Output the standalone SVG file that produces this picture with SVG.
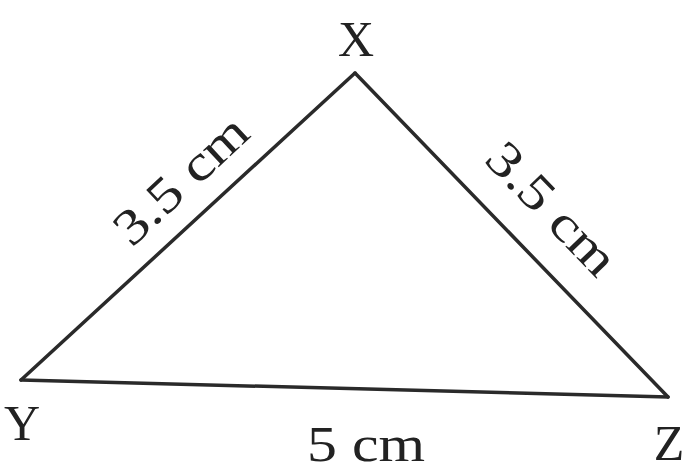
<svg xmlns="http://www.w3.org/2000/svg" width="691" height="472" viewBox="0 0 691 472">
<style>
.t{font-family:"Liberation Serif","Times New Roman",serif;font-size:50px;fill:#222;text-anchor:middle}
.e{stroke:#2a2a2a;stroke-width:3.5;fill:none;stroke-linecap:round}
</style>
<rect width="691" height="472" fill="#fff"/>
<g id="connectors">
<line class="e" x1="355" y1="73" x2="21" y2="380"/>
<line class="e" x1="355" y1="73" x2="668" y2="397"/>
<line class="e" x1="21" y1="380" x2="668" y2="397"/>
</g>
<g id="X"><text class="t" x="356" y="56">X</text></g>
<g id="Y"><text class="t" x="22" y="440">Y</text></g>
<g id="Z"><text class="t" x="669" y="460">Z</text></g>
<g id="label-XY"><text class="t" transform="translate(192,192) rotate(-43)" textLength="165" lengthAdjust="spacingAndGlyphs">3.5 cm</text></g>
<g id="label-XZ"><text class="t" transform="translate(540,220) rotate(46)" textLength="165" lengthAdjust="spacingAndGlyphs">3.5 cm</text></g>
<g id="label-YZ"><text class="t" x="366" y="461" textLength="118" lengthAdjust="spacingAndGlyphs">5 cm</text></g>
</svg>
